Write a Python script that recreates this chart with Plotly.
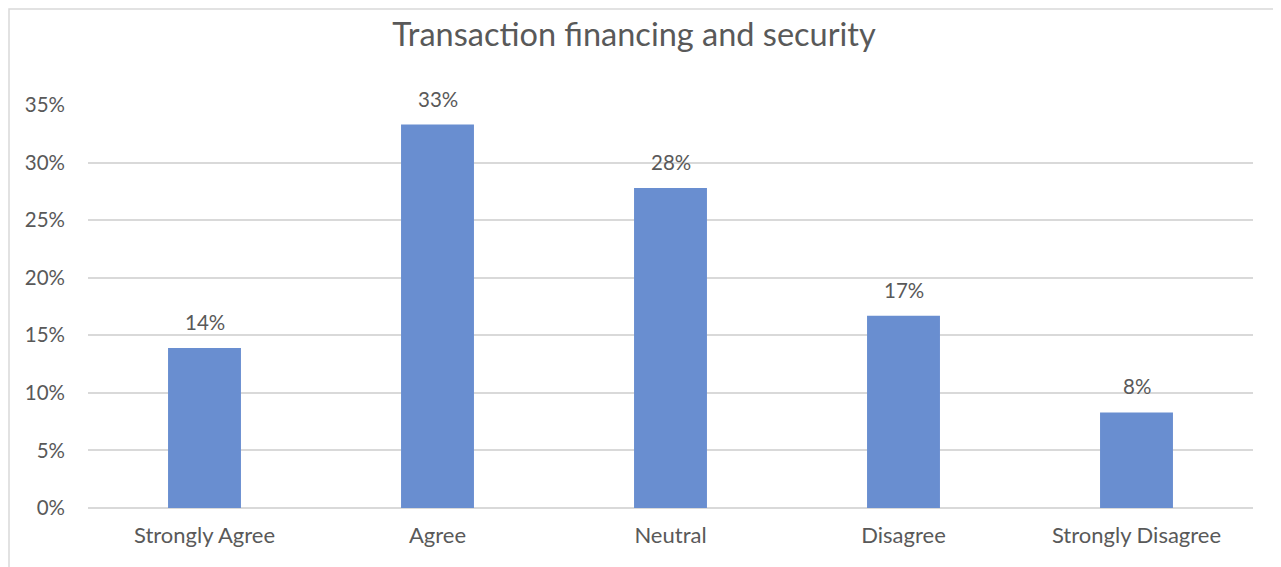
import plotly.graph_objects as go

# survey answers and their shares
categories = ['Strongly Agree', 'Agree', 'Neutral', 'Disagree', 'Strongly Disagree']
shares = [0.139, 0.333, 0.278, 0.167, 0.083]
labels = ['14%', '33%', '28%', '17%', '8%']

FONT = 'Lato'
GREY = '#595959'

# page body adds an 8px margin, so the figure is 8px smaller each way
W, H = 1273, 559
L, R, T, B = 80, 28, 97, 59
pw, ph = W - L - R, H - T - B

fig = go.Figure()
fig.add_trace(go.Bar(
    x=categories, y=shares,
    marker=dict(color='#698ED0', line=dict(width=0)),
    width=0.313,
    hoverinfo='x+y',
))

# data labels sitting above each bar
for c, v, t in zip(categories, shares, labels):
    fig.add_annotation(x=c, y=v, text=t, showarrow=False,
                       yanchor='bottom', yshift=12,
                       font=dict(family=FONT, size=20.5, color=GREY))

# light frame round the chart area (right and bottom run off the page)
fig.add_shape(type='rect', xref='paper', yref='paper',
              x0=(1 - L) / pw, x1=(W + 5 - L) / pw,
              y0=-(B + 10) / ph, y1=(ph + T - 1) / ph,
              line=dict(color='#d9d9d9', width=1.5), layer='below')

fig.update_layout(
    width=W, height=H,
    margin=dict(l=L, r=R, t=T, b=B),
    paper_bgcolor='white', plot_bgcolor='white',
    showlegend=False,
    title=dict(text='Transaction financing and security',
               x=(634 - 8) / W, xanchor='center', y=1 - 27 / H, yanchor='middle',
               font=dict(family=FONT, size=32.5, color=GREY)),
)
fig.update_xaxes(
    showline=False, showgrid=False, ticks='',
    ticklabelstandoff=12,
    tickfont=dict(family=FONT, size=22, color=GREY),
)
fig.update_yaxes(
    range=[0, 0.35], dtick=0.05, tickformat='.0%',
    showgrid=True, gridcolor='#d9d9d9', gridwidth=1.5,
    zeroline=True, zerolinecolor='#d9d9d9', zerolinewidth=1.5,
    showline=False, ticks='', ticklabelstandoff=22,
    tickfont=dict(family=FONT, size=20.5, color=GREY),
)

fig.write_html('out.html')
